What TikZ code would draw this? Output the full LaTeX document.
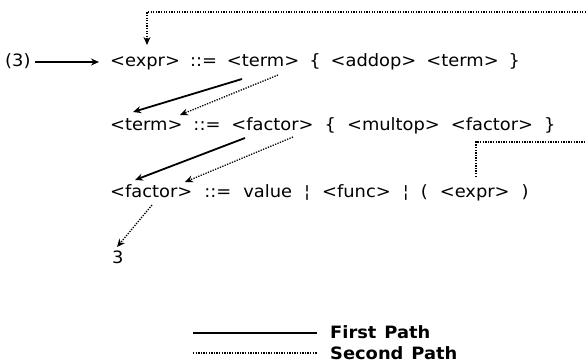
\documentclass[tikz,border=0pt]{standalone}
\usepackage{fontspec}
\setmainfont[FakeStretch=1.05]{DejaVu Sans}
\usetikzlibrary{arrows.meta}
\newcommand\myrowfont{\fontsize{17}{20}\selectfont\spaceskip=11pt\relax}
\newcommand\mylgdfont{\fontsize{17}{20}\selectfont\bfseries\spaceskip=8pt\relax}
\begin{document}
\begin{tikzpicture}[x=1pt,y=-1pt,
  txt/.style={inner sep=0pt,anchor=base west,font=\myrowfont},
  lgd/.style={inner sep=0pt,anchor=base west,font=\mylgdfont},
  firstpath/.style={line width=1.8pt},
  secondpath/.style={line width=1.3pt,dash pattern=on 1.3pt off 1.3pt},
  tip/.style={-{Stealth[length=8pt,width=7pt]}}]
\useasboundingbox (0,0) rectangle (586,363);
\node[txt] (three) at (5,67) {(3)};
\node[txt] (r1) at (110,67) {\spaceskip=10pt <expr> ::= <term> \{ <addop> <term> \}};
\node[txt] (r2) at (110,131) {<term> ::= <factor> \{ <multop> <factor> \}};
\node[txt] (r3) at (110,198) {\spaceskip=12pt <factor> ::= value ¦ <func> ¦ ( <expr> )};
\node[txt] (val) at (112,264) {3};
\node[lgd] (lg1) at (330,338) {First Path};
\node[lgd] (lg2) at (330,359) {Second Path};
% coordinates
\coordinate (a0) at (35,62);
\coordinate (a1) at (99,62);
\coordinate (topR) at (586,12);
\coordinate (topT) at (147,45);
\coordinate (s1a) at (242,79);
\coordinate (s1b) at (133,112);
\coordinate (d1a) at (278,75);
\coordinate (d1b) at (180,115);
\coordinate (s2a) at (245,138);
\coordinate (s2b) at (135,180);
\coordinate (d2a) at (293,137);
\coordinate (d2b) at (185,182);
\coordinate (d3a) at (152,205);
\coordinate (d3b) at (117,247);
\coordinate (e3) at (476,177);
\coordinate (e3R) at (586,142);
\coordinate (l1a) at (193,333);
\coordinate (l1b) at (317,333);
\coordinate (l2a) at (193,353);
\coordinate (l2b) at (317,353);
% connectors
\draw[firstpath,tip] (a0) -- (a1);
\draw[secondpath,tip] (topR) -| (topT);
\draw[firstpath,tip] (s1a) -- (s1b);
\draw[secondpath,tip] (d1a) -- (d1b);
\draw[firstpath,tip] (s2a) -- (s2b);
\draw[secondpath,tip] (d2a) -- (d2b);
\draw[secondpath,tip] (d3a) -- (d3b);
\draw[secondpath] (e3) |- (e3R);
\draw[firstpath] (l1a) -- (l1b);
\draw[secondpath] (l2a) -- (l2b);
\end{tikzpicture}
\end{document}
